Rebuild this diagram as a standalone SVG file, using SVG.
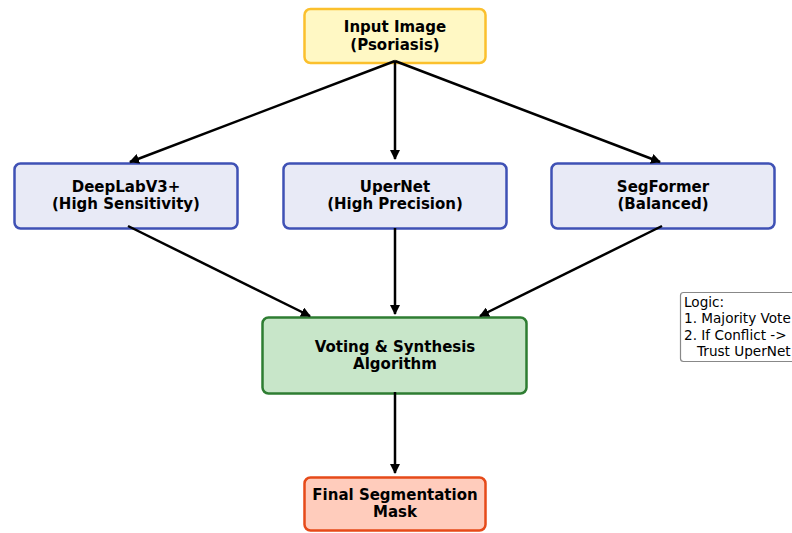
<svg xmlns="http://www.w3.org/2000/svg" width="792" height="533" viewBox="0 0 792 533">
<defs>
<marker id="ah" viewBox="0 0 10 10" refX="9" refY="5" markerWidth="4" markerHeight="4" orient="auto" markerUnits="strokeWidth">
<path d="M0,0 L10,5 L0,10 z" fill="#000"/>
</marker>
<style>
.lbl{font-family:"DejaVu Sans",sans-serif;font-weight:bold;font-size:15px;fill:#000;text-anchor:middle}
.note{font-family:"DejaVu Sans",sans-serif;font-size:13.6px;fill:#000}
.edge{stroke:#000;stroke-width:2.5;fill:none;marker-end:url(#ah)}
.model rect{fill:#e8eaf6;stroke:#3f51b5;stroke-width:2.5}
</style>
</defs>
<rect width="792" height="533" fill="#fff"/>
<g id="input">
<rect x="304.5" y="9" width="181" height="54" rx="6" fill="#fff8c4" stroke="#fbc02d" stroke-width="2.5"/>
<text class="lbl" x="395" y="32">Input Image</text>
<text class="lbl" x="395" y="50">(Psoriasis)</text>
</g>
<g id="deeplab" class="model">
<rect x="14.5" y="163.5" width="223" height="65" rx="6"/>
<text class="lbl" x="126" y="192">DeepLabV3+</text>
<text class="lbl" x="126" y="209">(High Sensitivity)</text>
</g>
<g id="upernet" class="model">
<rect x="283.5" y="163.5" width="223" height="65" rx="6"/>
<text class="lbl" x="395" y="192">UperNet</text>
<text class="lbl" x="395" y="209">(High Precision)</text>
</g>
<g id="segformer" class="model">
<rect x="551.5" y="163.5" width="223" height="65" rx="6"/>
<text class="lbl" x="663" y="192">SegFormer</text>
<text class="lbl" x="663" y="209">(Balanced)</text>
</g>
<g id="voting">
<rect x="262.5" y="317.5" width="264" height="76" rx="6" fill="#c8e6c9" stroke="#2e7d32" stroke-width="2.5"/>
<text class="lbl" x="395" y="352">Voting &amp; Synthesis</text>
<text class="lbl" x="395" y="369">Algorithm</text>
</g>
<g id="final">
<rect x="304.5" y="477.5" width="181" height="53" rx="6" fill="#ffccbc" stroke="#e64a19" stroke-width="2.5"/>
<text class="lbl" x="395" y="500">Final Segmentation</text>
<text class="lbl" x="395" y="517">Mask</text>
</g>
<g id="logic">
<rect x="680.5" y="292.5" width="130" height="69" rx="3" fill="#fff" stroke="#888" stroke-width="1.2"/>
<text class="note" x="684" y="307">Logic:</text>
<text class="note" x="684" y="323">1. Majority Vote</text>
<text class="note" x="684" y="340">2. If Conflict -&gt;</text>
<text class="note" x="697" y="356">Trust UperNet</text>
</g>
<g id="connectors">
<line class="edge" x1="395" y1="61" x2="130" y2="162"/>
<line class="edge" x1="395" y1="61" x2="395" y2="159"/>
<line class="edge" x1="395" y1="61" x2="660" y2="162"/>
<line class="edge" x1="128" y1="226" x2="310" y2="316"/>
<line class="edge" x1="395" y1="228" x2="395" y2="314"/>
<line class="edge" x1="662" y1="226" x2="480" y2="316"/>
<line class="edge" x1="395" y1="392" x2="395" y2="473"/>
</g>
</svg>
